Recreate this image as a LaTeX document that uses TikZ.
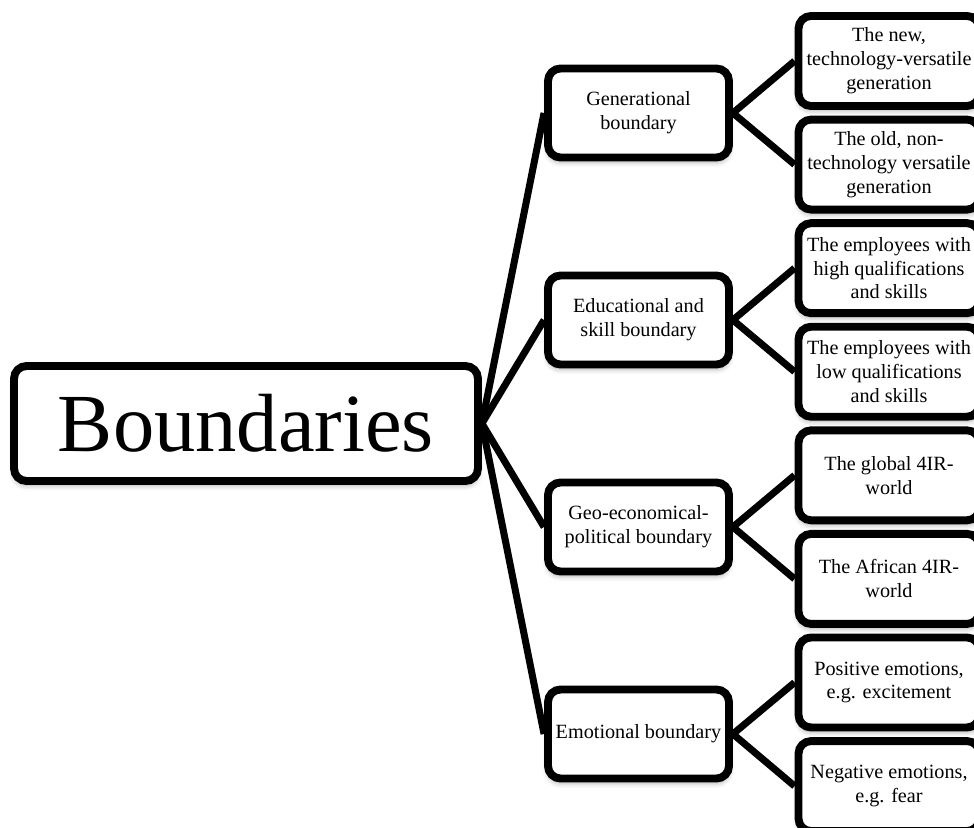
\documentclass[tikz,border=0pt]{standalone}
\usepackage{fontspec}
\setmainfont{Liberation Serif}
\usetikzlibrary{shadows.blur}
\tikzset{every node/.style={shape=rectangle, draw = black, line width=4.5pt, rounded corners=0.25cm,
  fill=white, align=center, inner sep=2pt, minimum width=3.62cm, minimum height=1.8cm,
  font=\fontsize{11.5}{13.6}\selectfont,
  blur shadow={shadow xshift=0pt, shadow yshift=-2.5pt, shadow blur radius=3pt, shadow opacity=35}}}
\tikzset{every edge/.style={draw = black, line width=4pt}}
\tikzset{rootbox/.style={minimum width=9.28cm, minimum height=2.3cm, font=\fontsize{47}{50}\selectfont}}

\begin{document}
\begin{tikzpicture}[x=0.02cm, y=-0.02cm, node distance = 2.072cm]
  \clip (0,0) rectangle (974,828);
  \node (root) [rootbox] at (246,423.5) {Boundaries};

  \node (gen) [minimum height=1.78cm] at (638.5,113) {Generational\\boundary};
  \node (edu) [minimum height=1.78cm] at (638.5,320) {Educational and\\skill boundary};
  \node (geo) [minimum height=1.78cm] at (638.5,527) {Geo-economical-\\political boundary};
  \node (emo) [minimum height=1.78cm] at (638.5,734) {Emotional boundary};

  \node (newgen) at (889,61) {The new,\\technology-versatile\\generation};
  \node (oldgen) [below of = newgen] {The old, non-\\technology versatile\\generation};
  \node (highq) [below of = oldgen] {The employees with\\high qualifications\\and skills};
  \node (lowq) [below of = highq] {The employees with\\low qualifications\\and skills};
  \node (global) [below of = lowq] {The global 4IR-\\world};
  \node (africa) [below of = global] {The African 4IR-\\world};
  \node (posemo) [below of = africa] {Positive emotions,\\e.g. excitement};
  \node (negemo) [below of = posemo] {Negative emotions,\\e.g. fear};

  \path (root.east) edge (gen.west);
  \path (root.east) edge (edu.west);
  \path (root.east) edge (geo.west);
  \path (root.east) edge (emo.west);

  \path (gen.east) edge (newgen.west);
  \path (gen.east) edge (oldgen.west);
  \path (edu.east) edge (highq.west);
  \path (edu.east) edge (lowq.west);
  \path (geo.east) edge (global.west);
  \path (geo.east) edge (africa.west);
  \path (emo.east) edge (posemo.west);
  \path (emo.east) edge (negemo.west);
\end{tikzpicture}
\end{document}
